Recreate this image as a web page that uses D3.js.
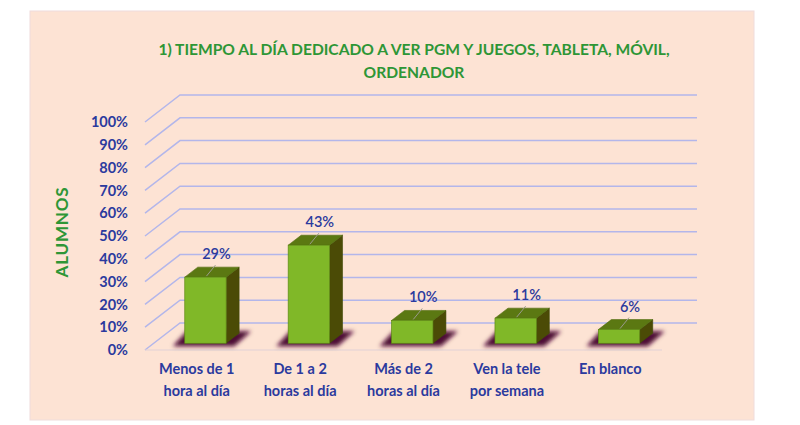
<!DOCTYPE html>
<html>
<head>
<meta charset="utf-8">
<script src="https://cdn.jsdelivr.net/npm/d3@7"></script>
<style>
  body { margin: 0; background: #fff; }
  svg { display: block; font-family: Lato, "Open Sans", sans-serif; }
</style>
</head>
<body>
<svg width="800" height="425"></svg>
<script>
var categories = [["Menos de 1", "hora al día"], ["De 1 a 2", "horas al día"], ["Más de 2", "horas al día"], ["Ven la tele", "por semana"], ["En blanco"]];
var values = [0.29, 0.43, 0.10, 0.11, 0.06];
var valueLabels = ["29%", "43%", "10%", "11%", "6%"];
var yTicks = [0, 0.1, 0.2, 0.3, 0.4, 0.5, 0.6, 0.7, 0.8, 0.9, 1];
var titleLines = ["1) TIEMPO AL DÍA DEDICADO A VER PGM Y JUEGOS, TABLETA, MÓVIL,", "ORDENADOR"];
var yTitle = "ALUMNOS";

var svg = d3.select("svg");
var blue = "#2b3a9e", green = "#2e9636";

// depth of the 3D box (back wall offset)
var dx = 35, dy = -27;

var defs = svg.append("defs");
defs.append("filter").attr("id", "blur")
  .attr("x", "-30%").attr("y", "-60%").attr("width", "160%").attr("height", "220%")
  .append("feGaussianBlur").attr("stdDeviation", 2.2);

svg.append("rect")
  .attr("x", 30).attr("y", 11).attr("width", 724).attr("height", 409)
  .attr("fill", "#fde3d4").attr("stroke", "#efdcdc").attr("stroke-width", 1);

var x = d3.scaleBand().domain(d3.range(categories.length)).range([145, 662]);
var y = d3.scaleLinear().domain([0, 1]).range([350, 122]);

// back wall gridlines (diagonal + horizontal)
svg.append("g").selectAll("path")
  .data(yTicks).enter().append("path")
  .attr("d", function(d) {
    return "M" + x.range()[0] + "," + y(d) + "L" + (x.range()[0] + dx) + "," + (y(d) + dy) +
      "H" + (x.range()[1] + dx);
  })
  .attr("fill", "none").attr("stroke", "#b3b6ea").attr("stroke-width", 1.5);

// floor front edge
svg.append("line")
  .attr("x1", x.range()[0]).attr("x2", x.range()[1])
  .attr("y1", y(0)).attr("y2", y(0))
  .attr("stroke", "#e2d2d6").attr("stroke-width", 1.2);

// y axis labels
var yAxis = svg.append("g")
  .attr("transform", "translate(136,0)")
  .call(d3.axisLeft(y).tickValues(yTicks).tickSize(0).tickPadding(8).tickFormat(d3.format(".0%")));
yAxis.select(".domain").remove();
yAxis.selectAll("text")
  .attr("fill", blue).attr("font-size", 14.5).attr("font-weight", "bold").attr("font-family", "Lato, sans-serif");

// bars
var fx = dx * 0.25, fy = dy * 0.25;   // bars sit a quarter into the floor
var bw = x.bandwidth() * 0.4;
var bdx = 13, bdy = -10;

var bars = svg.append("g").selectAll("g")
  .data(values).enter().append("g");

function cx(i) { return x(i) + x.bandwidth() / 2 + fx; }
var base = y(0) + fy;

bars.append("path")
  .attr("d", function(d, i) {
    var x0 = cx(i) - bw / 2, x1 = cx(i) + bw / 2;
    return "M" + (x0 - 12) + "," + (base + 3) + "L" + (x1 + 8) + "," + (base + 3) +
      "L" + (x1 + bdx + 12) + "," + (base + bdy - 2) + "L" + (x0 + 2) + "," + (base + bdy - 2) + "Z";
  })
  .attr("fill", "#4e0834").attr("filter", "url(#blur)");

bars.append("path") // side
  .attr("d", function(d, i) {
    var x1 = cx(i) + bw / 2, t = y(d) + fy;
    return "M" + x1 + "," + base + "L" + (x1 + bdx) + "," + (base + bdy) +
      "L" + (x1 + bdx) + "," + (t + bdy) + "L" + x1 + "," + t + "Z";
  })
  .attr("fill", "#4b4b06").attr("stroke", "#3f4a08").attr("stroke-width", 0.6);

bars.append("path") // top
  .attr("d", function(d, i) {
    var x0 = cx(i) - bw / 2, x1 = cx(i) + bw / 2, t = y(d) + fy;
    return "M" + x0 + "," + t + "L" + x1 + "," + t + "L" + (x1 + bdx) + "," + (t + bdy) +
      "L" + (x0 + bdx) + "," + (t + bdy) + "Z";
  })
  .attr("fill", "#5b7812").attr("stroke", "#4f6a0c").attr("stroke-width", 0.6);

bars.append("rect") // front
  .attr("x", function(d, i) { return cx(i) - bw / 2; })
  .attr("y", function(d) { return y(d) + fy; })
  .attr("width", bw)
  .attr("height", function(d) { return base - (y(d) + fy); })
  .attr("fill", "#80b828").attr("stroke", "#5f8a14").attr("stroke-width", 0.7);

// leader lines and value labels
bars.append("line")
  .attr("x1", function(d, i) { return cx(i) + 10; })
  .attr("y1", function(d) { return y(d) + fy - 12; })
  .attr("x2", function(d, i) { return cx(i) + 1; })
  .attr("y2", function(d) { return y(d) + fy - 1; })
  .attr("stroke", "#9a9a8c").attr("stroke-width", 1);

bars.append("text")
  .attr("x", function(d, i) { return cx(i) + 11; })
  .attr("y", function(d) { return y(d) + fy - 18; })
  .attr("text-anchor", "middle")
  .attr("fill", blue).attr("font-size", 14.5).attr("font-weight", 600)
  .text(function(d, i) { return valueLabels[i]; });

// category labels
var cat = svg.append("g").selectAll("text")
  .data(categories).enter().append("text")
  .attr("text-anchor", "middle")
  .attr("fill", blue).attr("font-size", 14.5).attr("font-weight", "bold");
cat.selectAll("tspan")
  .data(function(d, i) { return d.map(function(t) { return { t: t, i: i }; }); })
  .enter().append("tspan")
  .attr("x", function(d) { return x(d.i) + x.bandwidth() / 2; })
  .attr("y", function(d, j) { return 374 + j * 22; })
  .text(function(d) { return d.t; });

// titles
svg.append("g").selectAll("text")
  .data(titleLines).enter().append("text")
  .attr("x", 414).attr("y", function(d, i) { return 55 + i * 23; })
  .attr("text-anchor", "middle")
  .attr("fill", green).attr("font-size", 15.6).attr("font-weight", "bold")
  .text(function(d) { return d; });

svg.append("text")
  .attr("transform", "translate(68,232) rotate(-90)")
  .attr("text-anchor", "middle")
  .attr("fill", green).attr("font-size", 17).attr("font-weight", "bold")
  .attr("letter-spacing", 0.8)
  .text(yTitle);
</script>
</body>
</html>
